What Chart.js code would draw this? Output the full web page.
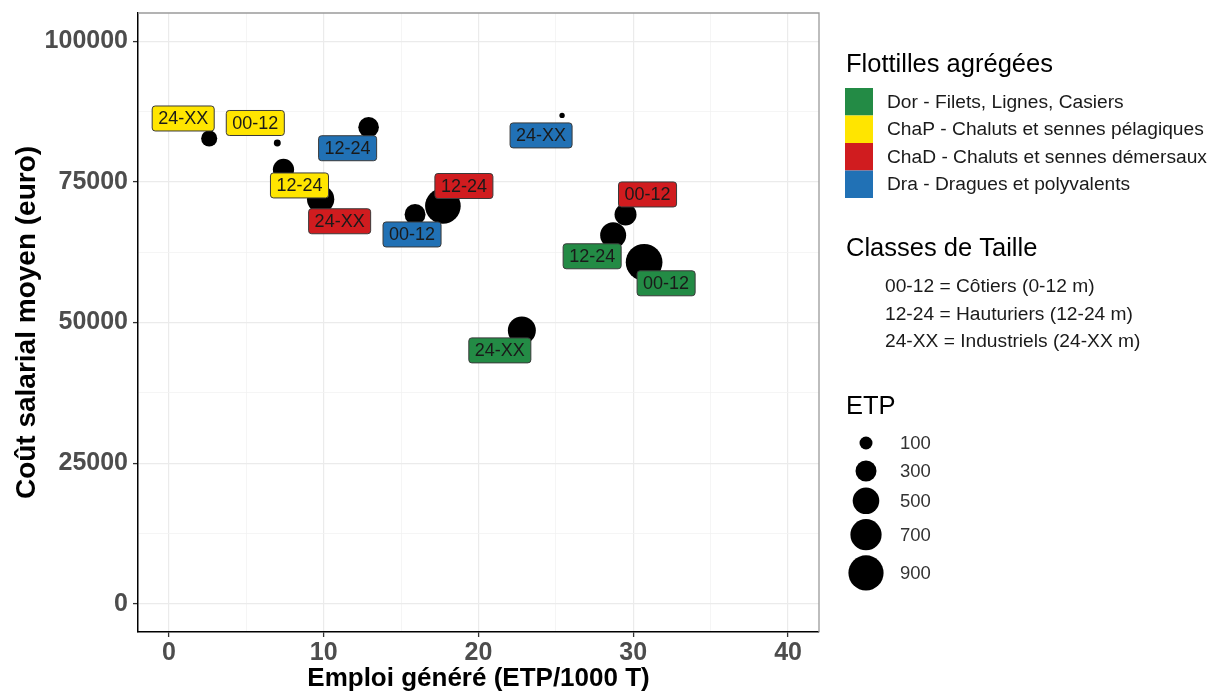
<!DOCTYPE html>
<html>
<head>
<meta charset="utf-8">
<script src="https://cdn.jsdelivr.net/npm/chart.js@4.4.1/dist/chart.umd.min.js"></script>
<style>
  html, body { margin: 0; padding: 0; background: #fff; }
  #wrap { position: relative; width: 1218px; height: 693px; }
</style>
</head>
<body>
<div id="wrap"><canvas id="chart"></canvas></div>
<script>
const FLEET_CODES = ['Dor', 'ChaP', 'ChaD', 'Dra'];
const FLEET_NAMES = [
  'Dor - Filets, Lignes, Casiers',
  'ChaP - Chaluts et sennes pélagiques',
  'ChaD - Chaluts et sennes démersaux',
  'Dra - Dragues et polyvalents'
];
const FLEET_COLORS = ['#238b45', '#ffe500', '#d01c1f', '#2171b5'];

const CLASS_LINES = [
  '00-12 = Côtiers (0-12 m)',
  '12-24 = Hauturiers (12-24 m)',
  '24-XX = Industriels (24-XX m)'
];

// one entry per bubble
const POINT_FLEET = ['ChaP', 'ChaP', 'ChaP', 'ChaD', 'Dra', 'Dra', 'ChaD', 'Dra', 'ChaD', 'Dor', 'Dor', 'Dor'];
const POINT_CLASS = ['24-XX', '00-12', '12-24', '24-XX', '12-24', '00-12', '12-24', '24-XX', '00-12', '12-24', '00-12', '24-XX'];
const EMPLOI = [2.6, 7.0, 7.4, 9.8, 12.9, 15.9, 17.7, 25.4, 29.5, 28.7, 30.7, 22.8];
const COUT = [82700, 81900, 77200, 71900, 84700, 69200, 70700, 86800, 69200, 65500, 60700, 48600];
const ETP = [190, 25, 340, 570, 320, 330, 980, 10, 365, 515, 1040, 600];

const ETP_BREAKS = [100, 300, 500, 700, 900];
const X_MAJOR = [0, 10, 20, 30, 40];
const X_MINOR = [5, 15, 25, 35];
const Y_MAJOR = [0, 25000, 50000, 75000, 100000];
const Y_MINOR = [12500, 37500, 62500, 87500];

// repelled label position, pixels from the bubble centre
const LABEL_OFFSETS = [
  [-26, -20], [-22, -20], [16, 16], [19, 22], [-21, 21], [-3, 20],
  [21, -20], [-21, 20], [22, -20], [-21, 21], [22, 21], [-22, 20]
];

const FONT = "'Liberation Sans', Arial, sans-serif";

function etpRadius(v) {
  return Math.sqrt(4 + 0.32 * v);
}

function buildTicks(major, minor) {
  return [...major, ...minor].sort((a, b) => a - b).map((value) => ({ value }));
}

function gridFor(major) {
  return {
    color: (ctx) => (major.includes(ctx.tick?.value) ? '#ebebeb' : '#f3f3f3'),
    lineWidth: (ctx) => (major.includes(ctx.tick?.value) ? 1.2 : 0.8),
    tickColor: (ctx) => (major.includes(ctx.tick?.value) ? '#333' : 'rgba(0,0,0,0)'),
    tickLength: 5,
    tickWidth: 1.3
  };
}

function noOverflow(scale) {
  scale.paddingTop = 0;
  scale.paddingBottom = 0;
  scale.paddingLeft = 0;
  scale.paddingRight = 0;
}

const panelBorder = {
  id: 'panelBorder',
  afterDraw(chart) {
    const { ctx, chartArea: a } = chart;
    ctx.save();
    ctx.strokeStyle = '#9a9a9a';
    ctx.lineWidth = 1.3;
    ctx.beginPath();
    ctx.moveTo(a.left, a.top);
    ctx.lineTo(a.right, a.top);
    ctx.lineTo(a.right, a.bottom);
    ctx.stroke();
    ctx.restore();
  }
};

const classLabels = {
  id: 'classLabels',
  afterDatasetsDraw(chart) {
    const { ctx } = chart;
    const meta = chart.getDatasetMeta(0);
    ctx.save();
    ctx.font = `18px ${FONT}`;
    ctx.textAlign = 'center';
    ctx.textBaseline = 'middle';
    meta.data.forEach((point, i) => {
      const [dx, dy] = LABEL_OFFSETS[i];
      const cx = point.x + dx;
      const cy = point.y + dy;
      const text = POINT_CLASS[i];
      const w = ctx.measureText(text).width + 12;
      const h = 25;
      ctx.beginPath();
      ctx.roundRect(cx - w / 2, cy - h / 2, w, h, 3);
      ctx.fillStyle = FLEET_COLORS[FLEET_CODES.indexOf(POINT_FLEET[i])];
      ctx.fill();
      ctx.lineWidth = 1;
      ctx.strokeStyle = '#3a3a3a';
      ctx.stroke();
      ctx.fillStyle = '#1a1a1a';
      ctx.fillText(text, cx, cy + 1);
    });
    ctx.restore();
  }
};

const sideLegend = {
  id: 'sideLegend',
  afterDraw(chart) {
    const { ctx } = chart;
    const x0 = 846;
    ctx.save();
    ctx.textAlign = 'left';

    // fleets
    ctx.fillStyle = '#000';
    ctx.textBaseline = 'alphabetic';
    ctx.font = `25.5px ${FONT}`;
    ctx.fillText('Flottilles agrégées', x0, 72);
    ctx.font = `19.2px ${FONT}`;
    ctx.textBaseline = 'middle';
    FLEET_NAMES.forEach((name, i) => {
      const top = 88 + i * 27.5;
      ctx.fillStyle = FLEET_COLORS[i];
      ctx.fillRect(x0 - 1, top, 28, 27.5);
      ctx.fillStyle = '#1a1a1a';
      ctx.fillText(name, 887, top + 14.5);
    });

    // size classes
    ctx.fillStyle = '#000';
    ctx.textBaseline = 'alphabetic';
    ctx.font = `25.5px ${FONT}`;
    ctx.fillText('Classes de Taille', x0, 256);
    ctx.font = `19.2px ${FONT}`;
    ctx.textBaseline = 'middle';
    ctx.fillStyle = '#1a1a1a';
    CLASS_LINES.forEach((line, i) => {
      ctx.fillText(line, 885, 287 + i * 27.5);
    });

    // bubble sizes
    ctx.fillStyle = '#000';
    ctx.textBaseline = 'alphabetic';
    ctx.font = `25.5px ${FONT}`;
    ctx.fillText('ETP', x0, 414);
    ctx.font = `18.5px ${FONT}`;
    ctx.textBaseline = 'middle';
    const heights = ETP_BREAKS.map((v) => Math.max(2 * etpRadius(v) + 6, 28));
    let cy = 443;
    ETP_BREAKS.forEach((v, i) => {
      if (i > 0) cy += (heights[i - 1] + heights[i]) / 2;
      ctx.fillStyle = '#000';
      ctx.beginPath();
      ctx.arc(866, cy, etpRadius(v) + 0.5, 0, Math.PI * 2);
      ctx.fill();
      ctx.fillStyle = '#333';
      ctx.fillText(String(v), 900, cy + 1);
    });
    ctx.restore();
  }
};

new Chart(document.getElementById('chart').getContext('2d'), {
  type: 'bubble',
  data: {
    datasets: [{
      data: EMPLOI.map((x, i) => ({ x, y: COUT[i], r: etpRadius(ETP[i]) })),
      backgroundColor: '#000',
      borderColor: '#000',
      borderWidth: 0
    }]
  },
  options: {
    responsive: true,
    maintainAspectRatio: false,
    animation: false,
    events: [],
    layout: { autoPadding: false, padding: { top: 13, right: 399, left: 0, bottom: 0 } },
    plugins: { legend: { display: false }, tooltip: { enabled: false } },
    scales: {
      x: {
        type: 'linear',
        min: -2,
        max: 42,
        afterBuildTicks: (scale) => { scale.ticks = buildTicks(X_MAJOR, X_MINOR); },
        afterFit: (scale) => { scale.height = 61; noOverflow(scale); },
        ticks: {
          autoSkip: false,
          maxRotation: 0,
          padding: 1,
          color: '#4d4d4d',
          font: { family: FONT, size: 25, weight: 'bold' },
          callback: (value) => (X_MAJOR.includes(value) ? String(value) : '')
        },
        grid: gridFor(X_MAJOR),
        border: { color: '#000', width: 1.5 },
        title: {
          display: true,
          text: 'Emploi généré (ETP/1000 T)',
          color: '#000',
          font: { family: FONT, size: 26, weight: 'bold', lineHeight: 1 },
          padding: { top: 0, bottom: 1 }
        }
      },
      y: {
        type: 'linear',
        min: -5000,
        max: 105000,
        afterBuildTicks: (scale) => { scale.ticks = buildTicks(Y_MAJOR, Y_MINOR); },
        afterFit: (scale) => { scale.width = 138; noOverflow(scale); },
        ticks: {
          autoSkip: false,
          padding: 5,
          color: '#4d4d4d',
          font: { family: FONT, size: 25, weight: 'bold' },
          callback: (value) => (Y_MAJOR.includes(value) ? String(value) : '')
        },
        grid: gridFor(Y_MAJOR),
        border: { color: '#000', width: 1.5 },
        title: {
          display: true,
          text: 'Coût salarial moyen (euro)',
          color: '#000',
          font: { family: FONT, size: 28, weight: 'bold', lineHeight: 1 },
          padding: { top: 13, bottom: 0 }
        }
      }
    }
  },
  plugins: [panelBorder, classLabels, sideLegend]
});
</script>
</body>
</html>
